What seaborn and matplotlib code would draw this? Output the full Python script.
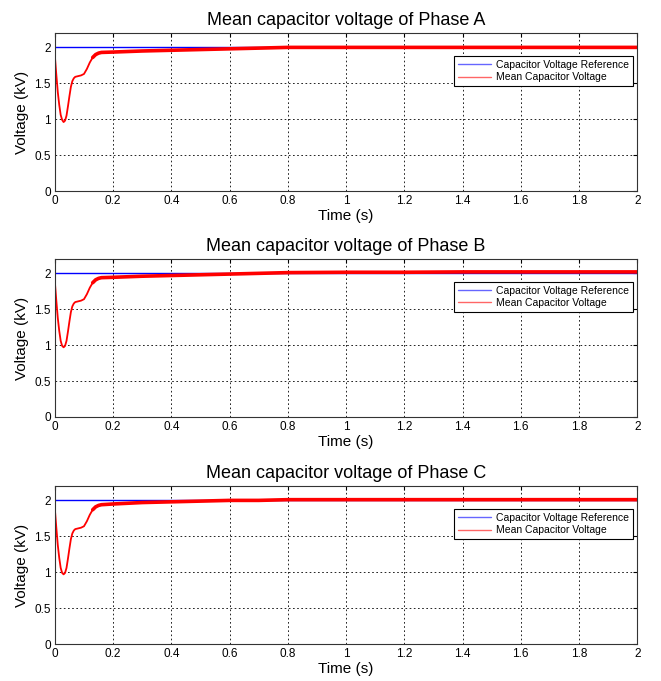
import numpy as np
import pandas as pd
import matplotlib
matplotlib.use("Agg")
import matplotlib.pyplot as plt
import seaborn as sns

sns.set_style("white")
plt.rcParams['font.family'] = ['Liberation Sans', 'DejaVu Sans']
plt.rcParams['text.color'] = 'black'
plt.rcParams['axes.labelcolor'] = 'black'
plt.rcParams['xtick.color'] = 'black'
plt.rcParams['ytick.color'] = 'black'

phases = ["A", "B", "C"]
time_s = [0, 0.005, 0.01, 0.015, 0.02, 0.025, 0.03, 0.035, 0.04, 0.045, 0.05, 0.055,
          0.06, 0.065, 0.07, 0.08, 0.09, 0.1, 0.11, 0.12, 0.13, 0.14, 0.15, 0.16,
          0.2, 0.3, 0.4, 0.5, 0.6, 0.7, 0.8, 1.0, 1.2, 1.4, 1.6, 1.8, 2.0]
mean_a = [1.88, 1.62, 1.38, 1.2, 1.06, 0.99, 0.96, 0.98, 1.05, 1.18, 1.32, 1.45,
          1.53, 1.57, 1.59, 1.6, 1.61, 1.63, 1.7, 1.79, 1.86, 1.9, 1.92, 1.93,
          1.935, 1.95, 1.96, 1.97, 1.98, 1.99, 2.0, 2.0, 2.0, 2.0, 2.0, 2.0, 2.0]
mean_b = [1.88, 1.62, 1.38, 1.2, 1.06, 0.99, 0.97, 0.99, 1.06, 1.19, 1.33, 1.46,
          1.54, 1.58, 1.6, 1.61, 1.62, 1.64, 1.71, 1.8, 1.87, 1.91, 1.93, 1.94,
          1.945, 1.96, 1.97, 1.98, 1.99, 2.0, 2.01, 2.015, 2.015, 2.02, 2.02, 2.02, 2.02]
mean_c = [1.88, 1.62, 1.38, 1.2, 1.06, 0.99, 0.97, 0.99, 1.06, 1.19, 1.33, 1.46,
          1.54, 1.58, 1.6, 1.61, 1.62, 1.64, 1.71, 1.8, 1.87, 1.91, 1.93, 1.94,
          1.95, 1.97, 1.98, 1.99, 2.0, 2.0, 2.01, 2.01, 2.01, 2.01, 2.01, 2.01, 2.01]
reference_kv = 2.0
x_ticks = [0, 0.2, 0.4, 0.6, 0.8, 1, 1.2, 1.4, 1.6, 1.8, 2]
y_ticks = [0, 0.5, 1, 1.5, 2]
series = {"A": mean_a, "B": mean_b, "C": mean_c}

fig = plt.figure(figsize=(6.61, 6.81), dpi=100)
left, width, height = 0.083, 0.881, 0.232
bottoms = [0.7195, 0.3877, 0.0543]

for ph, bot in zip(phases, bottoms):
    ax = fig.add_axes([left, bot, width, height])
    ref_df = pd.DataFrame({"t": [time_s[0], time_s[-1]], "v": [reference_kv, reference_kv]})
    sns.lineplot(data=ref_df, x="t", y="v", ax=ax, color="#0000ff", lw=1.0,
                 label="Capacitor Voltage Reference")
    df = pd.DataFrame({"t": time_s, "v": series[ph]})
    sns.lineplot(data=df, x="t", y="v", ax=ax, color="#ff0000", lw=1.3,
                 label="Mean Capacitor Voltage")
    tail = df[df["t"] >= 0.13]
    sns.lineplot(data=tail, x="t", y="v", ax=ax, color="#ff0000", lw=2.6)
    ax.set_xlim(0, 2)
    ax.set_ylim(0, 2.2)
    ax.set_xticks(x_ticks)
    ax.set_xticklabels([f"{v:g}" for v in x_ticks])
    ax.set_yticks(y_ticks)
    ax.set_yticklabels([f"{v:g}" for v in y_ticks])
    ax.tick_params(direction="in", labelsize=8.5, length=3, top=True, right=True, pad=3)
    ax.grid(True, color="black", linestyle=(0, (2, 3)), linewidth=0.6)
    for s in ax.spines.values():
        s.set_color("#333333")
        s.set_linewidth(0.8)
    ax.set_xlabel("Time (s)", fontsize=11, labelpad=1)
    ax.set_ylabel("Voltage (kV)", fontsize=11, labelpad=4)
    ax.set_title(f"Mean capacitor voltage of Phase {ph}", fontsize=13, pad=6)
    leg = ax.legend(loc="upper right", bbox_to_anchor=(0.993, 0.855), fontsize=7.5,
                    frameon=True, fancybox=False, framealpha=1, facecolor="white",
                    edgecolor="black", borderaxespad=0, handlelength=3.2,
                    borderpad=0.35, labelspacing=0.25, handletextpad=0.5)
    leg.get_frame().set_linewidth(0.8)
    leg.set_zorder(10)
    for line in leg.get_lines():
        line.set_linewidth(1.0)
        line.set_alpha(0.6)

fig.savefig("out.png", dpi=100, facecolor="white")
